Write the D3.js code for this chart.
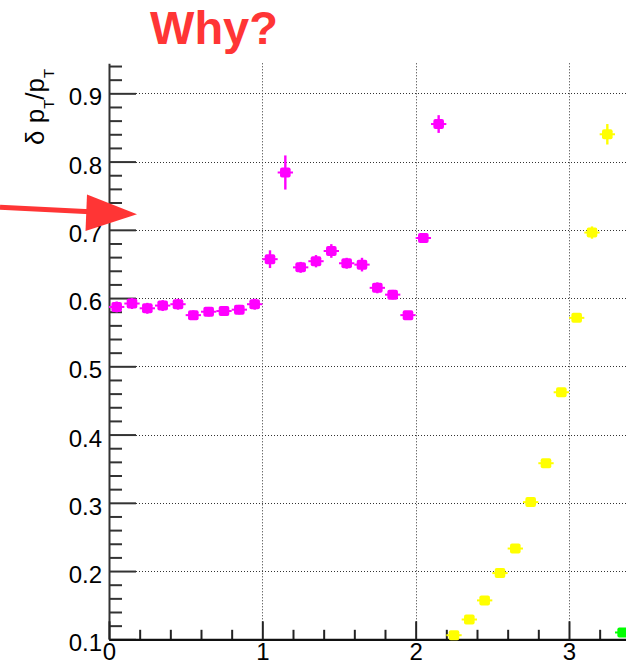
<!DOCTYPE html>
<html>
<head>
<meta charset="utf-8">
<script src="https://cdn.jsdelivr.net/npm/d3@7"></script>
<style>
  html, body { margin: 0; padding: 0; background: #fff; }
  svg { display: block; font-family: "Liberation Sans", Arial, Helvetica, sans-serif; }
</style>
</head>
<body>
<svg id="chart" width="626" height="665"></svg>
<script>
// Resolution vs. bin: three series, bin width 0.1
const magentaX = [0.05, 0.15, 0.25, 0.35, 0.45, 0.55, 0.65, 0.75, 0.85, 0.95,
                  1.05, 1.15, 1.25, 1.35, 1.45, 1.55, 1.65, 1.75, 1.85, 1.95, 2.05, 2.15];
const magentaY = [0.587, 0.592, 0.585, 0.589, 0.591, 0.575, 0.580, 0.581, 0.583, 0.591,
                  0.657, 0.784, 0.645, 0.654, 0.669, 0.651, 0.649, 0.615, 0.605, 0.575, 0.688, 0.855];
const magentaErr = [0.008, 0.008, 0.008, 0.008, 0.008, 0.007, 0.007, 0.007, 0.007, 0.008,
                    0.013, 0.025, 0.008, 0.009, 0.010, 0.008, 0.010, 0.008, 0.007, 0.006, 0.007, 0.013];

const yellowX = [2.25, 2.35, 2.45, 2.55, 2.65, 2.75, 2.85, 2.95, 3.05, 3.15, 3.25];
const yellowY = [0.106, 0.129, 0.157, 0.197, 0.233, 0.301, 0.358, 0.462, 0.571, 0.696, 0.840];
const yellowErr = [0.005, 0.005, 0.005, 0.005, 0.006, 0.006, 0.006, 0.006, 0.006, 0.009, 0.015];

const greenX = [3.35];
const greenY = [0.110];
const greenErr = [0.005];

const binHalfWidth = 0.05;

const xTickValues = [0, 1, 2, 3];
const xTickLabels = ["0", "1", "2", "3"];
const yTickValues = [0.1, 0.2, 0.3, 0.4, 0.5, 0.6, 0.7, 0.8, 0.9];
const yTickLabels = ["0.1", "0.2", "0.3", "0.4", "0.5", "0.6", "0.7", "0.8", "0.9"];

const titleText = "Why?";

const series = [
  { x: magentaX, y: magentaY, err: magentaErr, color: "#ff00ff" },
  { x: yellowX,  y: yellowY,  err: yellowErr,  color: "#ffff00" },
  { x: greenX,   y: greenY,   err: greenErr,   color: "#00ff00" }
];

const svg = d3.select("#chart");
const plotLeft = 109, plotBottom = 639.3, plotTop = 63.3;

const x = d3.scaleLinear().domain([0, 3.6]).range([plotLeft, plotLeft + 3.6 * 153.33]);
const y = d3.scaleLinear().domain([0.1, 0.944]).range([plotBottom, plotTop]);

const plotRight = x.range()[1];

// white background
svg.append("rect").attr("width", 626).attr("height", 665).attr("fill", "#fff");

// dotted grid
const grid = svg.append("g").attr("stroke", "#333").attr("stroke-width", 1)
  .attr("stroke-dasharray", "1,2");
grid.selectAll("line.h").data(yTickValues.filter(v => v > 0.1)).join("line")
  .attr("class", "h")
  .attr("x1", plotLeft).attr("x2", plotRight)
  .attr("y1", d => Math.round(y(d)) + 0.5).attr("y2", d => Math.round(y(d)) + 0.5);
grid.selectAll("line.v").data(xTickValues.filter(v => v > 0)).join("line")
  .attr("class", "v")
  .attr("y1", plotTop).attr("y2", plotBottom)
  .attr("x1", d => Math.round(x(d)) + 0.5).attr("x2", d => Math.round(x(d)) + 0.5);

// minor ticks
const yMinor = d3.range(0.12, 0.945, 0.02).filter(v => Math.abs(v * 10 - Math.round(v * 10)) > 1e-6);
const xMinor = d3.range(0.2, 3.6, 0.2).filter(v => Math.abs(v - Math.round(v)) > 1e-6);

svg.append("g").attr("transform", `translate(${plotLeft},0)`)
  .call(d3.axisLeft(y).tickValues(yMinor).tickSize(-13).tickSizeOuter(0).tickFormat(""))
  .call(g => g.select(".domain").remove())
  .call(g => g.selectAll("line").attr("stroke", "#333").attr("stroke-width", 2));

svg.append("g").attr("transform", `translate(0,${plotBottom})`)
  .call(d3.axisBottom(x).tickValues(xMinor).tickSize(-9.5).tickSizeOuter(0).tickFormat(""))
  .call(g => g.select(".domain").remove())
  .call(g => g.selectAll("line").attr("stroke", "#222").attr("stroke-width", 2));

// major axes
const yAxis = svg.append("g").attr("transform", `translate(${plotLeft},0)`)
  .call(d3.axisLeft(y).tickValues(yTickValues).tickSize(-27).tickSizeOuter(0).tickPadding(7)
    .tickFormat((d, i) => yTickLabels[i]));
yAxis.select(".domain").attr("stroke", "#333").attr("stroke-width", 2);
yAxis.selectAll("line").attr("stroke", "#333").attr("stroke-width", 2);
yAxis.selectAll("text").attr("font-size", 24).attr("fill", "#000")
  .attr("font-family", "'Liberation Sans', Arial, Helvetica, sans-serif")
  .attr("dy", null).attr("y", 11.6);

const xAxis = svg.append("g").attr("transform", `translate(0,${plotBottom})`)
  .call(d3.axisBottom(x).tickValues(xTickValues).tickSize(-18).tickSizeOuter(0)
    .tickFormat((d, i) => xTickLabels[i]));
xAxis.select(".domain").attr("stroke", "#111").attr("stroke-width", 2.2);
xAxis.selectAll("line").attr("stroke", "#222").attr("stroke-width", 2);
xAxis.selectAll("text").attr("font-size", 24).attr("fill", "#000")
  .attr("font-family", "'Liberation Sans', Arial, Helvetica, sans-serif")
  .attr("dy", null).attr("y", 20.4);

// data points with error bars
const marks = svg.append("g");
series.forEach(s => {
  const pts = s.x.map((xv, i) => ({ x: xv, y: s.y[i], e: s.err[i] }));
  const g = marks.append("g");
  g.selectAll("line.ex").data(pts).join("line")
    .attr("class", "ex")
    .attr("x1", d => x(d.x - binHalfWidth)).attr("x2", d => x(d.x + binHalfWidth))
    .attr("y1", d => y(d.y)).attr("y2", d => y(d.y))
    .attr("stroke", s.color).attr("stroke-width", 2);
  g.selectAll("line.ey").data(pts).join("line")
    .attr("class", "ey")
    .attr("x1", d => x(d.x)).attr("x2", d => x(d.x))
    .attr("y1", d => y(d.y - d.e)).attr("y2", d => y(d.y + d.e))
    .attr("stroke", s.color).attr("stroke-width", 2.4);
  g.selectAll("rect").data(pts).join("rect")
    .attr("x", d => x(d.x) - 5.3).attr("y", d => y(d.y) - 5)
    .attr("width", 10.6).attr("height", 10).attr("rx", 2)
    .attr("fill", s.color);
});

// y axis title: δ p_T / p_T
const yt = svg.append("text")
  .attr("transform", "translate(44,145) rotate(-90)")
  .attr("font-size", 26).attr("fill", "#000");
yt.append("tspan").text("δ p");
yt.append("tspan").attr("font-size", 15).attr("dy", 10).text("T");
yt.append("tspan").attr("dy", -10).text("/p");
yt.append("tspan").attr("font-size", 15).attr("dy", 10).text("T");

// title
svg.append("text")
  .attr("x", 214).attr("y", 44.3).attr("text-anchor", "middle")
  .attr("font-size", 47).attr("font-weight", "bold").attr("fill", "#ff3535")
  .text(titleText);

// red arrow
const arrow = svg.append("g").attr("fill", "#ff3535").attr("stroke", "none");
arrow.append("line").attr("x1", 0).attr("y1", 207.2).attr("x2", 90).attr("y2", 211.7)
  .attr("stroke", "#ff3535").attr("stroke-width", 5);
arrow.append("polygon").attr("points", "87,194.5 85.5,231 137,214.2");
</script>
</body>
</html>
